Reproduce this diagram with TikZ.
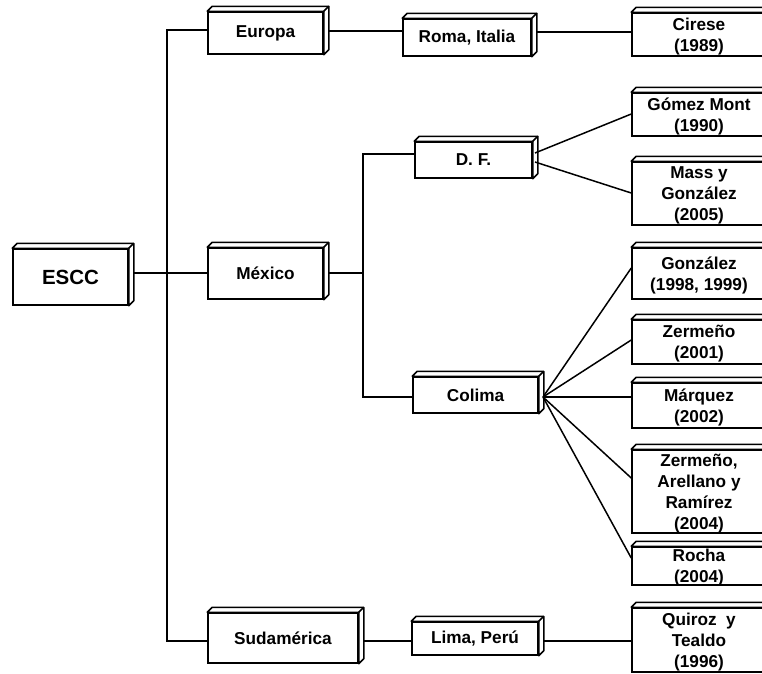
\documentclass[tikz,border=0pt]{standalone}
\usepackage{fontspec}
\setmainfont{Liberation Sans}
\usetikzlibrary{calc}
\newcommand{\mlines}[1]{\begin{tabular}[t]{@{}c@{}}#1\end{tabular}}
\tikzset{
  bx/.style={draw, fill=white, line width=1.5pt, inner sep=0pt,
    font=\bfseries\fontsize{17.2}{21}\selectfont},
  two/.style={text height=0pt, text depth=8.3pt},
  three/.style={text height=0pt, text depth=29.3pt},
  four/.style={text height=0pt, text depth=50.3pt},
  face/.style={draw, fill=white, line width=1.5pt, line join=round},
  conn/.style={line width=1.5pt}
}
\begin{document}
\begin{tikzpicture}[x=1pt,y=-1pt]
\useasboundingbox (0,0) rectangle (762,673);
\clip (0,0) rectangle (762,673);
% level 0/1
\node[bx, minimum width=115, minimum height=56, font=\bfseries\fontsize{20.5}{24}\selectfont] (escc) at (70.5,277) {ESCC};
\node[bx, minimum width=115, minimum height=42] (europa) at (265.5,33) {Europa};
\node[bx, minimum width=115, minimum height=51] (mexico) at (265.5,273.5) {México};
\node[bx, minimum width=150, minimum height=50] (sud) at (283,638) {Sudamérica};
% level 2
\node[bx, minimum width=128, minimum height=37] (roma) at (467,37.5) {Roma, Italia};
\node[bx, minimum width=117, minimum height=36] (df) at (473.5,160) {D. F.};
\node[bx, minimum width=125, minimum height=36] (colima) at (475.5,395) {Colima};
\node[bx, minimum width=126, minimum height=33] (lima) at (475,638.5) {Lima, Perú};
% level 3
\node[bx, two, minimum width=134, minimum height=43] (cirese) at (699,34.5) {\mlines{Cirese\\(1989)}};
\node[bx, two, minimum width=134, minimum height=43] (gomez) at (699,114.5) {\mlines{Gómez Mont\\(1990)}};
\node[bx, three, minimum width=134, minimum height=63] (mass) at (699,193.5) {\mlines{Mass y\\González\\(2005)}};
\node[bx, two, minimum width=134, minimum height=51] (gonz) at (699,273.5) {\mlines{González\\(1998, 1999)}};
\node[bx, two, minimum width=134, minimum height=44] (zer) at (699,342) {\mlines{Zermeño\\(2001)}};
\node[bx, two, minimum width=134, minimum height=45] (marq) at (699,405.5) {\mlines{Márquez\\(2002)}};
\node[bx, four, minimum width=134, minimum height=83] (zar) at (699,491.5) {\mlines{Zermeño,\\Arellano y\\Ramírez\\(2004)}};
\node[bx, two, minimum width=134, minimum height=38] (rocha) at (699,566) {\mlines{Rocha\\(2004)}};
\node[bx, three, minimum width=134, minimum height=64] (quiroz) at (699,640) {\mlines{Quiroz~~y\\Tealdo\\(1996)}};
% 3D faces
\foreach \n in {escc,europa,mexico,sud,roma,df,colima,lima,cirese,gomez,mass,gonz,zer,marq,zar,rocha,quiroz}{
  \draw[face] (\n.north west) -- ++(5,-5) -- ([shift={(5,-5)}]\n.north east)
    -- ([shift={(5,-5)}]\n.south east) -- (\n.south east) -- (\n.north east) -- cycle;
  \draw[face] (\n.north east) -- ++(5,-5);
}
% trunk
\coordinate (tTop) at (167,30);
\coordinate (tMid) at (167,273);
\coordinate (tBot) at (167,641);
\draw[conn] (europa.west |- tTop) -- (tTop) -- (tBot) -- (sud.west |- tBot);
\draw[conn] ([xshift=5]escc.east |- tMid) -- (mexico.west |- tMid);
% Europa branch
\coordinate (eY) at (0,31);
\draw[conn] ([xshift=5]europa.east |- eY) -- (roma.west |- eY);
\coordinate (rY) at (0,32);
\draw[conn] ([xshift=5]roma.east |- rY) -- (cirese.west |- rY);
% Mexico branch
\coordinate (sTop) at (363,154);
\coordinate (sBot) at (363,397);
\draw[conn] ([xshift=5]mexico.east |- tMid) -- (sTop |- tMid);
\draw[conn] (df.west |- sTop) -- (sTop) -- (sBot) -- (colima.west |- sBot);
% D.F. fan
\coordinate (df1) at (535,153);
\coordinate (df2) at (535,162);
\draw[conn] (df1) -- (gomez.west |- 0,114);
\draw[conn] (df2) -- (mass.west |- 0,193);
% Colima fan
\coordinate (cf) at (543,397);
\draw[conn] (cf) -- (gonz.west |- 0,268);
\draw[conn] (cf) -- (zer.west |- 0,340);
\draw[conn] (cf) -- (marq.west |- cf);
\draw[conn] (cf) -- (zar.west |- 0,478);
\draw[conn] (cf) -- (rocha.west |- 0,558);
% Sudamerica branch
\draw[conn] ([xshift=5]sud.east |- tBot) -- (lima.west |- tBot);
\draw[conn] ([xshift=5]lima.east |- tBot) -- (quiroz.west |- tBot);
\end{tikzpicture}
\end{document}
